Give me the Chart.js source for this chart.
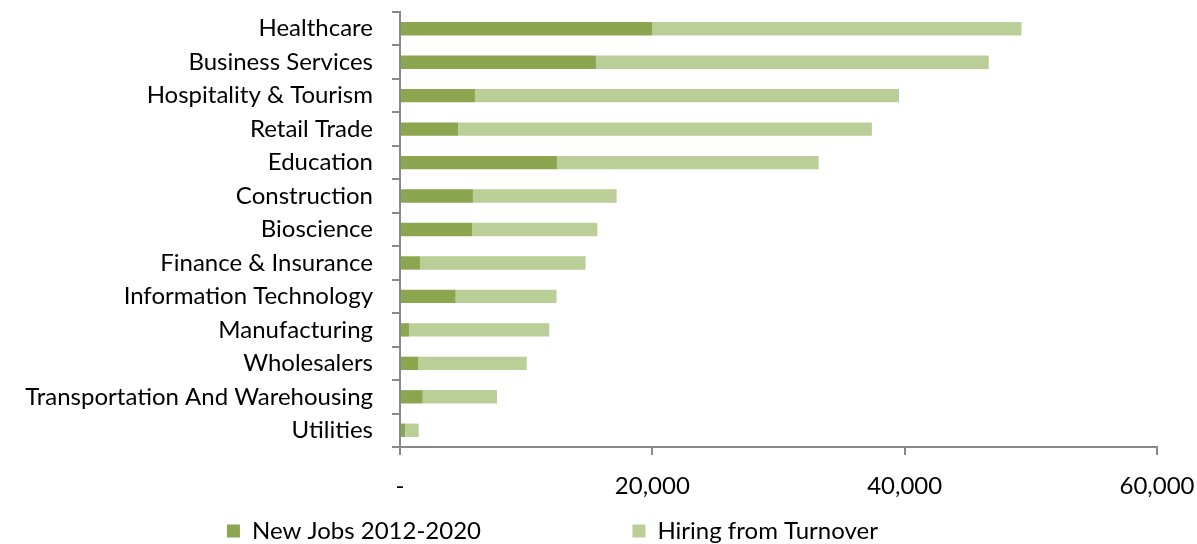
<!DOCTYPE html>
<html>
<head>
<meta charset="utf-8">
<script src="https://cdn.jsdelivr.net/npm/chart.js@4.4.1/dist/chart.umd.min.js"></script>
<style>
  html, body { margin: 0; padding: 0; background: #fff; }
  #wrap { width: 1197px; height: 544px; }
</style>
</head>
<body>
<div id="wrap"><canvas id="jobsChart" width="1197" height="544"></canvas></div>
<script>
const industries = [
  'Healthcare', 'Business Services', 'Hospitality & Tourism', 'Retail Trade',
  'Education', 'Construction', 'Bioscience', 'Finance & Insurance',
  'Information Technology', 'Manufacturing', 'Wholesalers',
  'Transportation And Warehousing', 'Utilities'
];
const newJobs = [20000, 15530, 5940, 4600, 12440, 5780, 5730, 1580, 4410, 710, 1450, 1800, 400];
const turnoverHiring = [29260, 31140, 33610, 32800, 20740, 11390, 9910, 13130, 8000, 11120, 8590, 5890, 1080];
const xTicks = [0, 20000, 40000, 60000];

const axisGrey = '#898989';
const font = { family: 'Lato', size: 24 };

new Chart(document.getElementById('jobsChart'), {
  type: 'bar',
  data: {
    labels: industries,
    datasets: [
      { label: 'New Jobs 2012-2020', data: newJobs, backgroundColor: '#8BA64F' },
      { label: 'Hiring from Turnover', data: turnoverHiring, backgroundColor: '#BACE97' }
    ]
  },
  options: {
    indexAxis: 'y',
    responsive: false,
    animation: false,
    layout: { padding: { top: 12, left: 0, right: 0, bottom: -9 } },
    datasets: { bar: { barPercentage: 0.4, categoryPercentage: 1 } },
    scales: {
      x: {
        stacked: true,
        min: 0,
        max: 60000,
        afterBuildTicks: (s) => { s.ticks = xTicks.map(v => ({ value: v })); },
        afterFit: (s) => { s.paddingRight = 40; s.height = 68; },
        border: { color: axisGrey, width: 2 },
        grid: { drawOnChartArea: false, color: axisGrey, lineWidth: 2, tickLength: 8 },
        ticks: {
          color: '#000', font: font, padding: 17, maxRotation: 0,
          callback: (v) => v === 0 ? '-' : v.toLocaleString('en-US')
        }
      },
      y: {
        stacked: true,
        afterFit: (s) => { s.width = 400; s.paddingTop = 0; s.paddingBottom = 0; },
        border: { color: axisGrey, width: 2 },
        grid: { drawOnChartArea: false, offset: true, color: axisGrey, lineWidth: 2, tickLength: 8 },
        ticks: { color: '#000', font: font, padding: 19, autoSkip: false }
      }
    },
    plugins: {
      tooltip: { enabled: false },
      legend: {
        position: 'bottom',
        labels: {
          color: '#000', font: font, boxWidth: 13, boxHeight: 13, padding: 4,
          generateLabels: (chart) => {
            const items = Chart.defaults.plugins.legend.labels.generateLabels(chart);
            items.forEach(it => { it.lineWidth = 0; });
            // wide gap between the two entries, like the original
            items[0].text = items[0].text + ' '.repeat(24);
            items[1].text = items[1].text + ' '.repeat(15);
            return items;
          }
        }
      }
    }
  }
});
</script>
</body>
</html>
